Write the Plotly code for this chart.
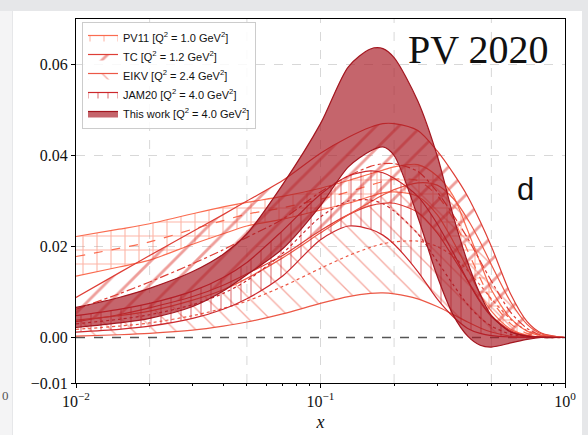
import plotly.graph_objects as go

# ---------------- data ----------------
X = [0.01, 0.015, 0.02, 0.03, 0.04, 0.05, 0.07, 0.1, 0.13, 0.16, 0.18, 0.2,
     0.25, 0.3, 0.35, 0.4, 0.45, 0.5, 0.6, 0.7, 0.8, 1.0]

PV11_LO = [0.0135, 0.0155, 0.017, 0.0205, 0.0228, 0.0245, 0.026, 0.028, 0.0295, 0.031, 0.0318, 0.032,
           0.031, 0.027, 0.021, 0.015, 0.0095, 0.0058, 0.0018, 0.0005, 0.0001, 0.0]
PV11_HI = [0.0222, 0.0238, 0.025, 0.0272, 0.0287, 0.0297, 0.031, 0.0328, 0.0345, 0.036, 0.0368, 0.0375,
           0.038, 0.0355, 0.031, 0.0235, 0.0165, 0.0105, 0.0042, 0.0014, 0.0004, 0.0]
PV11_MID = [0.0178, 0.0196, 0.021, 0.0238, 0.0257, 0.0271, 0.0285, 0.0304, 0.032, 0.0335, 0.0343, 0.0348,
            0.0345, 0.0312, 0.026, 0.019, 0.013, 0.0082, 0.003, 0.0009, 0.0002, 0.0]

TC_LO = [0.0035, 0.005, 0.0065, 0.009, 0.0115, 0.014, 0.018, 0.0235, 0.027, 0.029, 0.0295, 0.0295,
         0.0275, 0.023, 0.0175, 0.0125, 0.008, 0.0048, 0.0015, 0.0004, 0.0001, 0.0]
TC_HI = [0.0088, 0.0142, 0.018, 0.0233, 0.027, 0.030, 0.0345, 0.0405, 0.044, 0.0462, 0.047, 0.047,
         0.0455, 0.041, 0.036, 0.031, 0.0255, 0.020, 0.0095, 0.0035, 0.001, 0.0]
TC_MID = [0.0062, 0.0096, 0.0122, 0.0162, 0.0193, 0.022, 0.026, 0.032, 0.0355, 0.0376, 0.0382, 0.0382,
          0.0365, 0.032, 0.0268, 0.0218, 0.0168, 0.0124, 0.0055, 0.002, 0.0005, 0.0]

EIKV_LO = [0.0003, 0.0006, 0.0009, 0.0016, 0.0025, 0.0034, 0.0052, 0.0075, 0.009, 0.0097, 0.0098, 0.0096,
           0.0085, 0.0068, 0.005, 0.0034, 0.0021, 0.0012, 0.0003, 0.0001, 0.0, 0.0]
EIKV_HI = [0.0038, 0.0048, 0.0058, 0.0082, 0.0105, 0.013, 0.0175, 0.023, 0.027, 0.0298, 0.0313, 0.0325,
           0.034, 0.0335, 0.0305, 0.026, 0.021, 0.016, 0.0078, 0.0029, 0.0008, 0.0]
EIKV_MID = [0.0018, 0.0025, 0.0032, 0.0048, 0.0064, 0.008, 0.0112, 0.0152, 0.018, 0.0198, 0.0206, 0.021,
            0.0212, 0.020, 0.0178, 0.0147, 0.0115, 0.0085, 0.004, 0.0015, 0.0004, 0.0]

JAM_LO = [0.0012, 0.0018, 0.0025, 0.0042, 0.0062, 0.0085, 0.0135, 0.0215, 0.0245, 0.0238, 0.0225, 0.0205,
          0.0145, 0.0085, 0.0045, 0.002, 0.0009, 0.0004, 0.0001, 0.0, 0.0, 0.0]
JAM_HI = [0.0048, 0.0062, 0.0075, 0.0102, 0.0132, 0.0165, 0.0235, 0.0315, 0.0355, 0.0366, 0.0362, 0.035,
          0.031, 0.025, 0.0185, 0.0125, 0.0078, 0.0046, 0.0013, 0.0003, 0.0001, 0.0]
JAM_MID = [0.003, 0.004, 0.005, 0.0072, 0.0097, 0.0125, 0.0185, 0.0265, 0.030, 0.0302, 0.0294, 0.0278,
           0.0228, 0.0168, 0.0115, 0.0072, 0.0043, 0.0025, 0.0007, 0.0002, 0.0, 0.0]

TW_LO = [0.0022, 0.0032, 0.0042, 0.0068, 0.0102, 0.0138, 0.0195, 0.029, 0.0375, 0.041, 0.0419, 0.040,
         0.0265, 0.0135, 0.0048, 0.0003, -0.0017, -0.0021, -0.0012, -0.0004, 0.0, 0.0]
TW_HI = [0.0066, 0.0088, 0.0108, 0.0145, 0.0183, 0.0228, 0.0336, 0.047, 0.0595, 0.0634, 0.0635, 0.0615,
         0.052, 0.040, 0.0265, 0.0165, 0.0095, 0.0048, 0.0012, 0.0003, 0.0001, 0.0]

NAMES = ["PV11 [Q<sup>2</sup> = 1.0 GeV<sup>2</sup>]",
         "TC [Q<sup>2</sup> = 1.2 GeV<sup>2</sup>]",
         "EIKV [Q<sup>2</sup> = 2.4 GeV<sup>2</sup>]",
         "JAM20 [Q<sup>2</sup> = 4.0 GeV<sup>2</sup>]",
         "This work [Q<sup>2</sup> = 4.0 GeV<sup>2</sup>]"]

X_TICKS = [0.01, 0.1, 1.0]
X_TICKTEXT = ["10<sup>\u22122</sup>", "10<sup>\u22121</sup>", "10<sup>0</sup>"]
X_MINOR = [0.02, 0.03, 0.04, 0.05, 0.06, 0.07, 0.08, 0.09,
           0.2, 0.3, 0.4, 0.5, 0.6, 0.7, 0.8, 0.9]
X_GRID = [0.02, 0.05, 0.1, 0.2, 0.5]
Y_GRID = [0.02, 0.04, 0.06]
Y_TICKS = [-0.01, 0.0, 0.02, 0.04, 0.06]
Y_TICKTEXT = ["\u22120.01", "0.00", "0.02", "0.04", "0.06"]

# ---------------- figure ----------------
fig = go.Figure()

SM = 0.8


def hatched_band(name, lo, hi, mid, color, hatch, size, solidity, dash):
    fig.add_trace(go.Scatter(x=X, y=lo, mode="lines", showlegend=False, hoverinfo="skip",
                             line=dict(color=color, width=1.2, shape="spline", smoothing=SM)))
    fig.add_trace(go.Scatter(x=X, y=hi, mode="lines", name=name, hoverinfo="skip",
                             line=dict(color=color, width=1.2, shape="spline", smoothing=SM),
                             fill="tonexty", fillcolor="rgba(0,0,0,0)",
                             fillpattern=dict(shape=hatch, fgcolor=color, size=size, solidity=solidity)))
    fig.add_trace(go.Scatter(x=X, y=mid, mode="lines", showlegend=False, hoverinfo="skip",
                             line=dict(color=color, width=1.2, dash=dash, shape="spline", smoothing=SM)))


hatched_band(NAMES[0], PV11_LO, PV11_HI, PV11_MID, "rgb(250,108,80)", "+", 14, 0.15, "dash")
hatched_band(NAMES[1], TC_LO, TC_HI, TC_MID, "rgb(222,62,54)", "/", 16, 0.18, "dashdot")
hatched_band(NAMES[2], EIKV_LO, EIKV_HI, EIKV_MID, "rgb(236,88,70)", "\\", 15, 0.09, "dot")
hatched_band(NAMES[3], JAM_LO, JAM_HI, JAM_MID, "rgb(204,40,44)", "|", 10, 0.14, "dot")

fig.add_trace(go.Scatter(x=X, y=TW_LO, mode="lines", showlegend=False, hoverinfo="skip",
                         line=dict(color="#a3161f", width=1.2, shape="spline", smoothing=SM)))
fig.add_trace(go.Scatter(x=X, y=TW_HI, mode="lines", name=NAMES[4], hoverinfo="skip",
                         line=dict(color="#a3161f", width=1.2, shape="spline", smoothing=SM),
                         fill="tonexty", fillcolor="rgba(170,28,38,0.68)"))

# ---------------- layout ----------------
L, R, T, B = 76, 23, 19, 52
W, H = 588, 435
pw, ph = W - L - R, H - T - B


def px_x(p):
    return (p - L) / pw


def px_y(p):
    return (H - B - p) / ph


shapes = [
    # white card of the slide
    dict(type="rect", xref="paper", yref="paper", x0=px_x(13), x1=px_x(582), y0=px_y(440), y1=px_y(11),
         fillcolor="white", line=dict(width=0), layer="below"),
    dict(type="rect", xref="paper", yref="paper", x0=px_x(-2), x1=px_x(12), y0=px_y(440), y1=px_y(11),
         fillcolor="#f4f4f5", line=dict(width=0), layer="below"),
]
for gx in X_GRID:
    shapes.append(dict(type="line", xref="x", yref="paper", x0=gx, x1=gx, y0=0, y1=1,
                       line=dict(color="#d4d4d4", width=0.9, dash="dash"), layer="below"))
for gy in Y_GRID:
    shapes.append(dict(type="line", xref="paper", yref="y", x0=0, x1=1, y0=gy, y1=gy,
                       line=dict(color="#d4d4d4", width=0.9, dash="dash"), layer="below"))
# zero line
shapes.append(dict(type="line", xref="paper", yref="y", x0=0, x1=1, y0=0, y1=0,
                   line=dict(color="#555555", width=1.4, dash="dash"), layer="below"))

serif = "Liberation Serif, DejaVu Serif, serif"
sans = "Liberation Sans, Arial, sans-serif"

fig.update_layout(
    width=W, height=H,
    margin=dict(l=L, r=R, t=T, b=B),
    paper_bgcolor="#e6e7e9",
    plot_bgcolor="white",
    shapes=shapes,
    showlegend=True,
    legend=dict(x=px_x(82), y=px_y(22), xanchor="left", yanchor="top", traceorder="normal",
                bgcolor="rgba(255,255,255,0.85)", bordercolor="#cccccc", borderwidth=1,
                font=dict(family=sans, size=11, color="#111"), tracegroupgap=0,
                itemwidth=30),
    xaxis=dict(type="log", range=[-2, 0], tickvals=X_TICKS, ticktext=X_TICKTEXT, automargin=False,
               showgrid=False, zeroline=False, showline=True, linecolor="black", linewidth=1,
               mirror=True, ticks="outside", ticklen=4, tickcolor="black",
               minor=dict(tickvals=X_MINOR, ticks="outside", ticklen=2.2, tickcolor="black", showgrid=False),
               tickfont=dict(family=serif, size=16, color="#111"),
               title=dict(text="<i>x</i>", font=dict(family=serif, size=18, color="#111"), standoff=6)),
    yaxis=dict(range=[-0.01, 0.07], tickvals=Y_TICKS, ticktext=Y_TICKTEXT, automargin=False,
               showgrid=False, zeroline=False, showline=True, linecolor="black", linewidth=1, mirror=True,
               ticks="outside", ticklen=4, tickcolor="black",
               tickfont=dict(family=serif, size=16, color="#111")),
    annotations=[
        dict(text="PV 2020", xref="paper", yref="paper", x=px_x(478), y=px_y(49),
             xanchor="center", yanchor="middle",
             showarrow=False, font=dict(family=serif, size=40, color="#111")),
        dict(text="d", xref="paper", yref="paper", x=px_x(525), y=px_y(189),
             xanchor="center", yanchor="middle",
             showarrow=False, font=dict(family=sans, size=31, color="#111")),
        dict(text="0", xref="paper", yref="paper", x=px_x(5), y=px_y(395),
             xanchor="center", yanchor="middle",
             showarrow=False, font=dict(family=serif, size=13, color="#555")),
    ],
)

fig.write_html("out.html")
